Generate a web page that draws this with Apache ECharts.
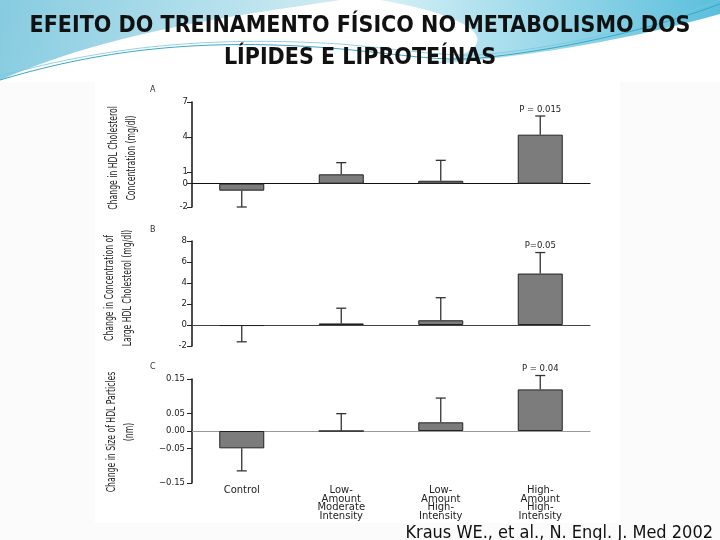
<!DOCTYPE html>
<html>
<head>
<meta charset="utf-8">
<script src="https://cdn.jsdelivr.net/npm/echarts@6/dist/echarts.min.js"></script>
<style>html,body{margin:0;padding:0;background:#fff}#c{width:720px;height:540px}</style>
</head>
<body>
<div id="c"></div>
<script>
// ---- data ----
const categories = ['Control', 'Low-\nAmount\nModerate\nIntensity', 'Low-\nAmount\nHigh-\nIntensity', 'High-\nAmount\nHigh-\nIntensity'];
const hdlChange = [-0.6, 0.8, 0.25, 4.2];
const hdlErrEnd = [-2.0, 1.8, 2.0, 5.8];
const largeHdlChange = [-0.1, 0.15, 0.45, 4.9];
const largeHdlErrEnd = [-1.6, 1.6, 2.6, 6.9];
const sizeChange = [-0.05, 0, 0.025, 0.12];
const sizeErrEnd = [-0.115, 0.05, 0.095, 0.16];
const pLabelsA = ['', '', '', 'P = 0.015'];
const pLabelsB = ['', '', '', 'P=0.05'];
const pLabelsC = ['', '', '', 'P = 0.04'];
const ticksA = [-2, 0, 1, 4, 7];
const ticksB = [-2, 0, 2, 4, 6, 8];
const ticksC = [-0.15, -0.05, 0, 0.05, 0.15];
const nameA = 'Change in HDL Cholesterol\nConcentration (mg/dl)';
const nameB = 'Change in Concentration of\nLarge HDL Cholesterol (mg/dl)';
const nameC = 'Change in Size of HDL Particles\n(nm)';
const titleText = 'EFEITO DO TREINAMENTO FÍSICO NO METABOLISMO DOS\nLÍPIDES E LIPROTEÍNAS';
const citation = 'Kraus WE., et al., N. Engl. J. Med 2002';

const chart = echarts.init(document.getElementById('c'));
const narrow = '"Liberation Sans Narrow", "DejaVu Sans Condensed", sans-serif';
const wide = '"DejaVu Sans", Verdana, sans-serif';

// decorative background helpers (slide swoosh)
function bez(p0, p1, p2, p3, n) {
  const out = [];
  for (let k = 0; k <= n; k++) {
    const t = k / n, u = 1 - t;
    out.push([u*u*u*p0[0] + 3*u*u*t*p1[0] + 3*u*t*t*p2[0] + t*t*t*p3[0],
              u*u*u*p0[1] + 3*u*u*t*p1[1] + 3*u*t*t*p2[1] + t*t*t*p3[1]]);
  }
  return out;
}
const leftSwoosh = [[0, 0], [340, 0]].concat(bez([340, 0], [250, 14], [120, 28], [0, 80], 30));
const rightSwoosh = [[380, 0], [720, 0], [720, 14]]
  .concat(bez([720, 14], [620, 42], [520, 58], [430, 64], 30))
  .concat(bez([430, 64], [520, 45], [470, 15], [380, 0], 30));
const line1 = bez([0, 80], [100, 50], [200, 38], [330, 48], 30).concat(bez([330, 48], [400, 54], [440, 62], [480, 58], 20)).concat(bez([480, 58], [560, 50], [650, 30], [720, 4], 30));
const line2 = bez([0, 76], [110, 46], [210, 36], [340, 44], 30).concat(bez([340, 44], [410, 50], [450, 58], [490, 54], 20)).concat(bez([490, 54], [570, 46], [660, 24], [720, 0], 30));

function yName(text, cx, cy) {
  return {type: 'text', x: cx, y: cy, rotation: Math.PI / 2, scaleX: 0.66, z: 10,
    style: {text: text, fontFamily: narrow, fontSize: 13, lineHeight: 18, fill: '#222', align: 'center', verticalAlign: 'middle'}};
}
function yAxis(gi, min, max, ticks, margin, fmt) {
  return {
    type: 'value', gridIndex: gi, min: min, max: max,
    axisLine: {show: true, lineStyle: {color: '#111', width: 1.5}},
    axisTick: {show: true, length: 5, customValues: ticks, lineStyle: {color: '#222'}},
    axisLabel: {customValues: ticks, fontFamily: wide, fontSize: 8.5, color: '#222', margin: margin,
      formatter: fmt},
    splitLine: {show: false}
  };
}
function xAxisZero(gi, color) {
  return {
    type: 'category', gridIndex: gi, data: categories,
    axisLine: {show: true, onZero: true, lineStyle: {color: color, width: 1.2}},
    axisTick: {show: false}, axisLabel: {show: false}
  };
}
function errSeries(ai, vals, ends, labels) {
  return {
    type: 'custom', xAxisIndex: ai, yAxisIndex: ai, clip: false, z: 5,
    data: vals.map((v, i) => [i, v, ends[i]]),
    renderItem: function (params, api) {
      const i = api.value(0);
      const p0 = api.coord([i, api.value(1)]);
      const p1 = api.coord([i, api.value(2)]);
      const children = [
        {type: 'line', shape: {x1: p0[0], y1: p0[1], x2: p1[0], y2: p1[1]}, style: {stroke: '#333', lineWidth: 1.3}},
        {type: 'line', shape: {x1: p1[0] - 5, y1: p1[1], x2: p1[0] + 5, y2: p1[1]}, style: {stroke: '#333', lineWidth: 1.3}}
      ];
      if (labels[i]) {
        children.push({type: 'text', x: p1[0], y: p1[1] - 2,
          style: {text: labels[i], fontFamily: wide, fontSize: 8.5, fill: '#222', align: 'center', verticalAlign: 'bottom'}});
      }
      return {type: 'group', children: children};
    }
  };
}
function barSeries(ai, vals) {
  return {
    type: 'bar', xAxisIndex: ai, yAxisIndex: ai, data: vals, barWidth: 45,
    itemStyle: {color: '#7c7c7c', borderColor: '#222', borderWidth: 1},
    z: 3
  };
}

const fmtC = v => (v < 0 ? '\u2212' : '') + Math.abs(v).toFixed(2);

chart.setOption({
  animation: false,
  backgroundColor: '#fbfbfb',
  title: {
    text: titleText, left: 'center', top: 5,
    textStyle: {fontFamily: narrow, fontWeight: 'bold', fontSize: 23, lineHeight: 32, color: '#111'}
  },
  graphic: [
    {type: 'rect', z: -11, shape: {x: 0, y: 0, width: 720, height: 82}, style: {fill: '#ffffff'}},
    {type: 'rect', z: -10, shape: {x: 95, y: 78, width: 525, height: 445}, style: {fill: '#ffffff'}},
    {type: 'polygon', z: -9, shape: {points: leftSwoosh},
      style: {fill: {type: 'linear', x: 0, y: 0, x2: 1, y2: 1, colorStops: [{offset: 0, color: '#86cbe0'}, {offset: 1, color: '#d3eef5'}]}}},
    {type: 'polygon', z: -9, shape: {points: rightSwoosh},
      style: {fill: {type: 'linear', x: 0, y: 0, x2: 1, y2: 0, colorStops: [{offset: 0, color: '#d6f0f6'}, {offset: 1, color: '#5bbfdc'}]}}},
    {type: 'polyline', z: -8, shape: {points: line1}, style: {fill: null, stroke: '#3aa7c8', lineWidth: 1}},
    {type: 'polyline', z: -8, shape: {points: line2}, style: {fill: null, stroke: '#79c6dc', lineWidth: 0.8}},
    {type: 'text', left: 150, top: 86, style: {text: 'A', fontFamily: wide, fontSize: 8, fill: '#333'}},
    {type: 'text', left: 150, top: 226, style: {text: 'B', fontFamily: wide, fontSize: 8, fill: '#333'}},
    {type: 'text', left: 150, top: 363, style: {text: 'C', fontFamily: wide, fontSize: 8, fill: '#333'}},
    yName(nameA, 122.5, 158),
    yName(nameB, 119, 288),
    yName(nameC, 121, 432),
    {type: 'text', right: 7, bottom: -2, style: {text: citation, fontFamily: narrow, fontSize: 18, fill: '#111'}}
  ],
  grid: [
    {left: 192, top: 102, width: 398, height: 105},
    {left: 192, top: 241, width: 398, height: 105},
    {left: 192, top: 379, width: 398, height: 104}
  ],
  xAxis: [
    xAxisZero(0, '#111'),
    xAxisZero(1, '#444'),
    xAxisZero(2, '#999'),
    {type: 'category', gridIndex: 2, data: categories, position: 'bottom',
      axisLine: {show: false, onZero: false}, axisTick: {show: false},
      axisLabel: {interval: 0, margin: 3, fontFamily: wide, fontSize: 10, lineHeight: 8.7, color: '#222'}}
  ],
  yAxis: [
    yAxis(0, -2, 7, ticksA, 4, v => String(v)),
    yAxis(1, -2, 8, ticksB, 5, v => String(v)),
    yAxis(2, -0.15, 0.15, ticksC, 7, fmtC)
  ],
  series: [
    barSeries(0, hdlChange),
    errSeries(0, hdlChange, hdlErrEnd, pLabelsA),
    barSeries(1, largeHdlChange),
    errSeries(1, largeHdlChange, largeHdlErrEnd, pLabelsB),
    barSeries(2, sizeChange),
    errSeries(2, sizeChange, sizeErrEnd, pLabelsC)
  ]
});
</script>
</body>
</html>
